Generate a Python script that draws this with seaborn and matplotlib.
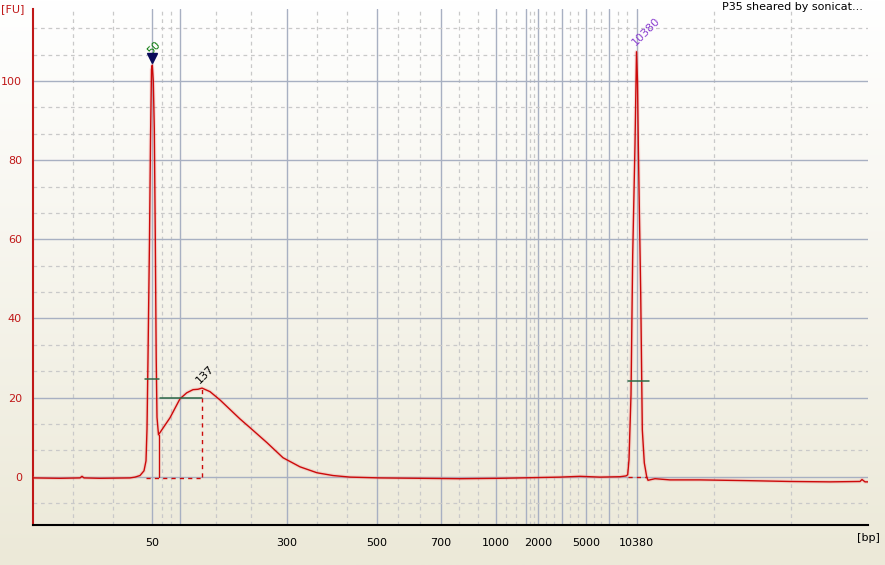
import numpy as np
import pandas as pd
import matplotlib
matplotlib.use('Agg')
import matplotlib.pyplot as plt
import seaborn as sns
from matplotlib.colors import LinearSegmentedColormap

# Electropherogram trace: migration time [s] vs fluorescence [FU]
trace_time = [40.0, 42.7, 44.7, 44.9, 45.1, 46.7, 49.7, 50.2, 50.7, 51.1, 51.3, 51.4,
              51.5, 51.65, 51.75, 51.85, 51.93, 52.03, 52.13, 52.23, 52.32, 52.4, 52.55,
              53.03, 53.7, 54.7, 55.37, 56.0, 56.5, 56.9, 57.7, 58.7, 59.7, 60.7, 61.7,
              63.4, 65.0, 66.7, 68.4, 70.0, 71.7, 74.7, 78.7, 82.7, 86.7, 90.7, 92.7,
              94.7, 96.7, 98.7, 99.3, 99.47, 99.6, 99.8, 99.97, 100.2, 100.35, 100.45,
              100.53, 100.77, 100.93, 101.13, 101.37, 101.5, 102.2, 103.7, 106.7, 111.7,
              115.7, 119.7, 122.7, 122.9, 123.2, 123.5]
trace_fu = [-0.3, -0.4, -0.3, 0.1, -0.3, -0.4, -0.3, -0.1, 0.3, 1.5, 4.0, 12.0,
            30.0, 60.0, 85.0, 103.0, 104.0, 100.0, 88.0, 60.0, 30.0, 15.0, 10.6,
            12.4, 14.9, 19.7, 21.2, 22.0, 22.1, 22.4, 21.5, 19.4, 17.0, 14.6, 12.4,
            8.6, 4.8, 2.5, 1.0, 0.3, -0.1, -0.3, -0.4, -0.5, -0.4, -0.2, -0.1,
            0.1, -0.1, 0.0, 0.2, 0.5, 4.3, 20.7, 56.0, 84.0, 107.4, 100.0,
            84.0, 46.5, 11.9, 3.5, 0.0, -0.9, -0.5, -0.8, -0.8, -1.0,
            -1.2, -1.3, -1.2, -0.7, -1.3, -1.3]

# ladder positions on the time axis and their size labels [bp]
ladder_time = [51.93, 54.7, 65.4, 74.4, 80.8, 86.3, 89.3, 90.5, 92.9, 95.3, 97.6, 100.35]
ladder_labels = ['50', '', '300', '500', '700', '1000', '', '2000', '', '5000', '', '10380']

# markers (lower / upper)
marker_time = [51.93, 100.35]
marker_fu = [104.0, 107.4]
marker_labels = ['50', '10380']
marker_colors = ['#0A7A0A', '#8A3FD0']
marker_half_fu = [24.7, 24.1]
marker_half_span = [(51.2, 52.6), (99.5, 101.6)]
marker_base_span = [(51.25, 51.25), (99.5, 101.4)]

# smear peak
smear_start_time = 52.63
smear_start_fu = 10.6
smear_peak_time = 56.9
smear_peak_fu = 22.4
smear_peak_label = '137'
smear_half_fu = 20.0
smear_half_span = (52.7, 56.9)
smear_base_span = (51.25, 56.9)

sample_name = 'P35 sheared by sonicat...'

XMIN, XMAX = 40.0, 123.5
YMIN, YMAX = -12.2, 118.2
TRACE_RED = '#CC0A0A'
AXIS_RED = '#C01818'

sns.set_style('white')
plt.rcParams['font.family'] = ['DejaVu Sans']
plt.rcParams['font.size'] = 8

fig = plt.figure(figsize=(8.85, 5.65), dpi=100)

# XP style background gradient
bg = fig.add_axes([0, 0, 1, 1], zorder=-10)
grad = np.linspace(1, 0, 256).reshape(-1, 1)
cmap = LinearSegmentedColormap.from_list('xp', ['#ECE9D8', '#FFFFFF'])
bg.imshow(grad, aspect='auto', cmap=cmap, extent=[0, 1, 0, 1])
bg.axis('off')

ax = fig.add_axes([33 / 885, 40 / 565, 835 / 885, 516 / 565])
ax.patch.set_alpha(0)

df = pd.DataFrame({'time': trace_time, 'fu': trace_fu})
# soft glow under the trace
sns.lineplot(data=df, x='time', y='fu', sort=False, estimator=None, ax=ax,
             color='#F08080', lw=2.6, alpha=0.25, zorder=3)
sns.lineplot(data=df, x='time', y='fu', sort=False, estimator=None, ax=ax,
             color=TRACE_RED, lw=1.0, zorder=4)

ax.set_xlim(XMIN, XMAX)
ax.set_ylim(YMIN, YMAX)

# axis ticks
ax.set_xticks(ladder_time)
ax.set_xticklabels(ladder_labels)
bounds = [XMIN] + ladder_time + [XMAX]
xminor = []
for a, b in zip(bounds[:-1], bounds[1:]):
    xminor += [a + (b - a) / 3, a + 2 * (b - a) / 3]
ax.set_xticks(xminor, minor=True)

ax.set_yticks([0, 20, 40, 60, 80, 100])
ymin_ticks = [v for v in np.arange(-20, 120, 20 / 3) if YMIN < v < YMAX and abs(v / 20 - round(v / 20)) > 0.01]
ax.set_yticks(ymin_ticks, minor=True)

ax.grid(which='major', color='#A8B0C2', lw=1.0, ls='-', zorder=0)
ax.grid(which='minor', color='#C9C9C9', lw=0.9, ls=(0, (3, 3)), zorder=0)
ax.set_axisbelow(True)

ax.tick_params(axis='x', which='major', length=6, width=1.2, color='black',
               labelcolor='black', labelsize=8, pad=3)
ax.tick_params(axis='y', which='major', length=6, width=1.2, color=AXIS_RED,
               labelcolor=AXIS_RED, labelsize=8, pad=2)
ax.tick_params(which='minor', length=0)

for s in ['top', 'right']:
    ax.spines[s].set_visible(False)
ax.spines['left'].set_color(AXIS_RED)
ax.spines['left'].set_linewidth(1.5)
ax.spines['bottom'].set_color('black')
ax.spines['bottom'].set_linewidth(1.5)
ax.set_xlabel('')
ax.set_ylabel('')

# marker annotations
green = '#2F6A47'
label_dy = [3.0, 2.0]
for t, fu, lab, col, hfu, hs, bs, dy in zip(marker_time, marker_fu, marker_labels, marker_colors,
                                             marker_half_fu, marker_half_span, marker_base_span, label_dy):
    ax.plot(list(hs), [hfu, hfu], color=green, lw=1.1, zorder=5)
    if bs[1] > bs[0]:
        ax.plot(list(bs), [0, 0], color=TRACE_RED, lw=1.0, ls=(0, (3, 3)), zorder=5)
    ax.text(t - 0.3, fu + dy, lab, color=col, rotation=45, rotation_mode='anchor',
            ha='left', va='center', fontsize=8, zorder=6)
ax.plot([marker_time[0]], [marker_fu[0] + 1.8], marker='v', color='#0A0A5A', ms=7, zorder=6)

# smear region
ax.plot([smear_start_time, smear_start_time], [0, smear_start_fu], color=TRACE_RED, lw=1.0, zorder=4)
ax.plot(list(smear_base_span), [-0.2, -0.2], color=TRACE_RED, lw=1.0, ls=(0, (3, 3)), zorder=5)
ax.plot([smear_peak_time, smear_peak_time], [0, smear_peak_fu], color=TRACE_RED, lw=1.0,
        ls=(0, (3, 3)), zorder=5)
ax.plot(list(smear_half_span), [smear_half_fu, smear_half_fu], color=green, lw=1.1, zorder=5)
ax.text(smear_peak_time - 0.45, smear_peak_fu + 1.5, smear_peak_label, color='black', rotation=45,
        rotation_mode='anchor', ha='left', va='center', fontsize=8, zorder=6)

# frame texts
fig.text(1 / 885, 1 - 4 / 565, '[FU]', color=AXIS_RED, ha='left', va='top', fontsize=8)
fig.text(880 / 885, 1 - 533 / 565, '[bp]', color='black', ha='right', va='top', fontsize=8)
fig.text(863 / 885, 1 - 2 / 565, sample_name, color='black', ha='right', va='top', fontsize=8)

fig.savefig('out.png', dpi=100)
